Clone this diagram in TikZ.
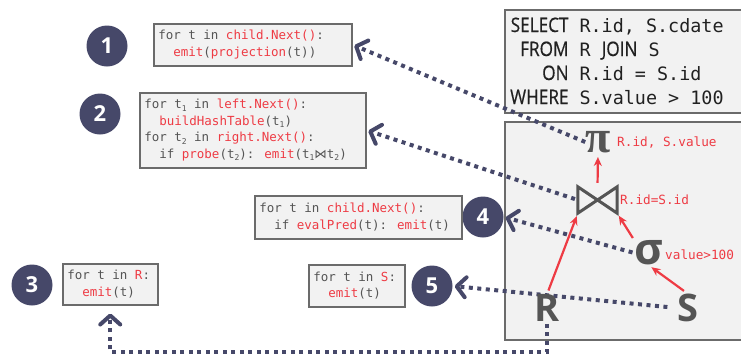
\documentclass[tikz,border=0pt]{standalone}
\usepackage{fontspec}
\setmainfont{Open Sans}
\newfontfamily\codefont{DejaVu Sans Mono}
\newfontfamily\kwfont[FakeStretch=0.86,FakeBold=0.5]{Open Sans}
\newfontfamily\symserif{Liberation Serif}
\newfontfamily\symsans{Open Sans}
\newfontfamily\djs{DejaVu Sans}
\usetikzlibrary{arrows.meta}
\definecolor{navy}{HTML}{464869}
\definecolor{codered}{HTML}{EE3B44}
\definecolor{codegray}{HTML}{555555}
\definecolor{boxfill}{HTML}{F2F2F2}
\definecolor{boxline}{HTML}{6B6B6B}
\definecolor{opgray}{HTML}{555555}
\newcommand\rd[1]{\textcolor{codered}{#1}}
\newcommand\subt[1]{\raisebox{-2.5pt}{\fontsize{8}{8}\selectfont #1}}
\newcommand\ind{\phantom{xx}}
\newcommand\fixsp{\spaceskip=0pt\xspaceskip=0pt\relax}
\newcommand\kw[1]{{\kwfont\fontsize{20}{24}\selectfont #1}}
\pgfdeclarelayer{bg}
\pgfsetlayers{bg,main}
\tikzset{
  codebox/.style={draw=boxline, fill=boxfill, line width=1.5pt, text=codegray,
    font=\codefont\fontsize{12.5}{16.5}\selectfont, align=left, anchor=north west,
    inner xsep=4.5pt, inner ysep=0pt},
  bigbox/.style={draw=boxline, fill=boxfill, line width=2pt, anchor=north west, inner sep=0pt},
  numc/.style={circle, fill=navy, minimum size=41pt, inner sep=0pt, text=white,
    font=\symsans\bfseries\fontsize{22}{22}\selectfont},
  opsym/.style={inner sep=0pt, text=opgray},
  oplabel/.style={anchor=west, inner sep=1pt, text=codered, font=\codefont\fontsize{12.7}{14}\selectfont},
  dotarrow/.style={draw=navy, line width=4pt, dash pattern=on 4pt off 4.5pt,
    -{Straight Barb[length=9pt,width=20pt,round]}, shorten >=2pt},
  redarrow/.style={draw=codered, line width=2.2pt, -{Stealth[length=9pt,width=8pt]}}
}
\begin{document}
\begin{tikzpicture}[x=1pt,y=-1pt]
\useasboundingbox (0,0) rectangle (741,354);
% big boxes
\begin{pgfonlayer}{bg}
\node[bigbox, minimum width=250pt, minimum height=103pt] (sql) at (504,9) {};
\node[bigbox, minimum width=250pt, minimum height=218pt] (plan) at (504,121) {};
\end{pgfonlayer}
\node[anchor=north west, inner sep=0pt, text=black!87, font=\codefont\fontsize{18.4}{24}\selectfont] (sqltext) at (510,15)
 {\begin{tabular}{@{}r@{\hspace{11pt}}l@{}}
 \kw{SELECT} & R.id, S.cdate\\
 \kw{FROM} & R \kw{JOIN} S\\
 \kw{ON} & R.id = S.id\\
 \kw{WHERE} & S.value > 100
 \end{tabular}};
% number circles
\node[numc] (c1) at (107,46) {1};
\node[numc] (c2) at (100,114) {2};
\node[numc] (c3) at (32,285) {3};
\node[numc] (c4) at (483,217) {4};
\node[numc] (c5) at (432,286) {5};
% code boxes
\node[codebox, text width=189pt, minimum height=42pt] (b1) at (153,23)
 {\fixsp for t in \rd{child.Next()}:\\\ind\rd{emit}(\rd{projection}(t))};
\node[codebox, text width=217pt, minimum height=75pt] (b2) at (139,92)
 {\fixsp for t\subt{1} in \rd{left.Next()}:\\
  \ind\rd{buildHashTable}(t\subt{1})\\
  for t\subt{2} in \rd{right.Next()}:\\
  \ind if \rd{probe}(t\subt{2}): \rd{emit}(t\subt{1}{\djs ⋈}t\subt{2})};
\node[codebox, text width=198pt, minimum height=43pt] (b4) at (254,195)
 {\fixsp for t in \rd{child.Next()}:\\\ind if \rd{evalPred}(t): \rd{emit}(t)};
\node[codebox, text width=86pt, minimum height=41pt] (b3) at (62,263)
 {\fixsp for t in \rd{R}:\\\ind\rd{emit}(t)};
\node[codebox, text width=87pt, minimum height=42pt] (b5) at (308,264)
 {\fixsp for t in \rd{S}:\\\ind\rd{emit}(t)};
% operators
\node[opsym, font=\symserif\bfseries\fontsize{46}{46}\selectfont] (pi) at (598,142) {π};
\node[inner sep=0pt, minimum width=39pt, minimum height=26pt] (join) at (597.5,200) {};
\draw[draw=opgray, line width=3pt, line join=miter]
  (join.north west) -- (join.south east) -- (join.north east) -- (join.south west) -- cycle;
\node[opsym, font=\symsans\bfseries\fontsize{44}{44}\selectfont] (sig) at (649,253) {σ};
\node[opsym, font=\symsans\bfseries\fontsize{38}{38}\selectfont] (R) at (547,308) {R};
\node[opsym, font=\symsans\bfseries\fontsize{38}{38}\selectfont] (S) at (688,308) {S};
\node[oplabel] (pilab) at (616,143) {R.id, S.value};
\node[oplabel] (joinlab) at (619,200) {R.id=S.id};
\node[oplabel] (siglab) at (664,255) {value>100};
% red arrows
\draw[redarrow, shorten <=4pt, shorten >=4pt] (join.north) -- (pi.south);
\draw[redarrow, shorten <=4pt, shorten >=3pt] (R.north) -- (join.south west);
\draw[redarrow, shorten <=3pt, shorten >=3pt] (sig.north west) -- (join.south east);
\draw[redarrow, shorten <=5pt, shorten >=3pt] (S.north) -- (sig.south);
% dotted arrows
\coordinate (low) at (546,352);
\begin{pgfonlayer}{bg}
\draw[dotarrow] (pi.west) -- (b1.east);
\draw[dotarrow, shorten <=3pt] (join.west) -- (b2.east);
\draw[dotarrow, shorten <=2pt] (sig.west) -- (c4.east);
\draw[dotarrow, shorten <=10pt] (S.west) -- (c5.east);
\draw[dotarrow, shorten >=8pt, shorten <=2pt] (R.south) -- (R.south |- low) -| (b3.south);
\end{pgfonlayer}
\end{tikzpicture}
\end{document}
